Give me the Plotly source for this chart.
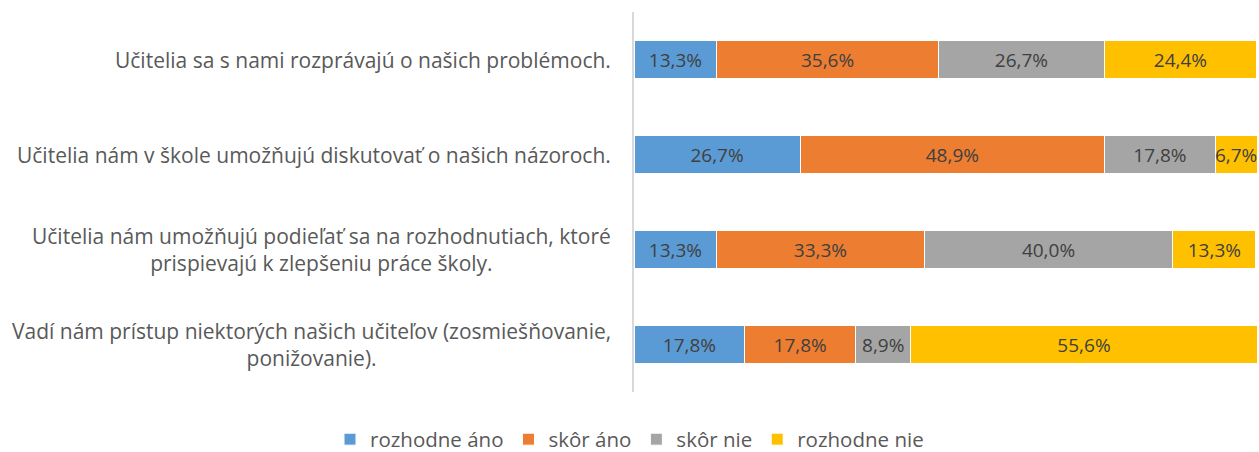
import plotly.graph_objects as go

categories = [
    "Učitelia sa s nami rozprávajú o našich problémoch.",
    "Učitelia nám v škole umožňujú diskutovať o našich názoroch.",
    "Učitelia nám umožňujú podieľať sa na rozhodnutiach, ktoré<br>prispievajú k zlepšeniu práce školy.",
    "Vadí nám prístup niektorých našich učiteľov (zosmiešňovanie,<br>ponižovanie).",
]
series_names = ["rozhodne áno", "skôr áno", "skôr nie", "rozhodne nie"]
rozhodne_ano = [13.3, 26.7, 13.3, 17.8]
skor_ano = [35.6, 48.9, 33.3, 17.8]
skor_nie = [26.7, 17.8, 40.0, 8.9]
rozhodne_nie = [24.4, 6.7, 13.3, 55.6]
values = [rozhodne_ano, skor_ano, skor_nie, rozhodne_nie]
colors = ["#5B9BD5", "#ED7D31", "#A5A5A5", "#FFC000"]

FONT = "Open Sans"

fig = go.Figure()
for name, vals, col in zip(series_names, values, colors):
    fig.add_trace(go.Bar(
        y=categories, x=vals, name=name, orientation="h",
        marker=dict(color=col, line=dict(color="white", width=1)),
        text=[f"{v:.1f}%".replace(".", ",") for v in vals],
        textposition="inside", insidetextanchor="middle",
        textfont=dict(family=FONT, size=19, color="#404040"),
        constraintext="none",
    ))

for c in categories:
    fig.add_annotation(
        x=0, xref="paper", xshift=-21, y=c, yref="y", text=c, showarrow=False,
        xanchor="right", yanchor="middle", align="center",
        font=dict(family=FONT, size=21, color="#595959"),
    )

fig.update_layout(
    barmode="stack", bargap=0.6,
    width=1259, height=452,
    margin=dict(l=634, r=2, t=12, b=60),
    plot_bgcolor="white", paper_bgcolor="white",
    xaxis=dict(range=[0, 100.1], showgrid=False, showticklabels=False, zeroline=False,
               showline=False, fixedrange=True),
    yaxis=dict(autorange="reversed", showticklabels=False, showline=True, linecolor="#D9D9D9",
               linewidth=2, ticks="", showgrid=False),
    legend=dict(orientation="h", x=0.5, xref="container", xanchor="center",
                y=0.028, yref="container", yanchor="middle",
                font=dict(family=FONT, size=20.5, color="#595959"), traceorder="normal"),
    showlegend=True,
)
fig.write_html(
    "out.html",
    config={"displayModeBar": False},
    post_script="document.body.style.margin='0';document.body.style.overflow='hidden';",
)
